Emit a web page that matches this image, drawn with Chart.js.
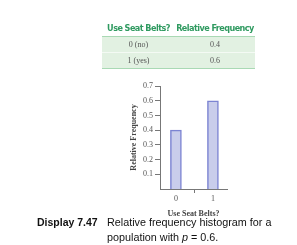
<!DOCTYPE html>
<html>
<head>
<meta charset="utf-8">
<script src="https://cdn.jsdelivr.net/npm/chart.js@4.4.1/dist/chart.umd.min.js"></script>
<style>
  html, body { margin: 0; padding: 0; background: #fff; }
  #wrap { position: relative; width: 297px; height: 245px; overflow: hidden; }
  #c { position: absolute; left: 0; top: 0; }
  table.freq { position: absolute; left: 102px; top: 19px; width: 153px; border-collapse: collapse; table-layout: fixed; }
  table.freq th { font-family: "DejaVu Sans Condensed", "Liberation Sans Narrow", "Liberation Sans", sans-serif; font-stretch: condensed; font-weight: bold; font-size: 9px; color: #2f9a60; height: 17px; padding: 0; text-align: center; white-space: nowrap; border-bottom: 1.5px solid #a9d9b4; letter-spacing: -0.55px; }
  table.freq td { font-family: "Liberation Serif", "DejaVu Serif", serif; font-size: 8px; color: #555; background: #e2f1e2; height: 15px; padding: 0; text-align: center; }
  table.freq tr.r1 td { border-bottom: 1px solid #f4faf4; }
  table.freq tr.r2 td { border-bottom: 1.5px solid #a9d9b4; }
  .cap { position: absolute; font-family: "Liberation Sans", Arial, sans-serif; color: #111; line-height: 15px; white-space: nowrap; }
</style>
</head>
<body>
<div id="wrap">
  <canvas id="c" width="297" height="245"></canvas>
  <table class="freq" id="tbl"></table>
  <div class="cap" style="left:37px; top:215px; font-weight:bold; font-size:10.5px;">Display 7.47</div>
  <div class="cap" style="left:107px; top:215px; font-size:10.8px;">Relative frequency histogram for a<br>population with <i>p</i> = 0.6.</div>
</div>
<script>
const headers = ['Use Seat Belts?', 'Relative Frequency'];
const rowLabels = ['0 (no)', '1 (yes)'];
const categories = [0, 1];
const relFreq = [0.4, 0.6];
const yTickValues = [0.1, 0.2, 0.3, 0.4, 0.5, 0.6, 0.7];
const xTitle = 'Use Seat Belts?';
const yTitle = 'Relative Frequency';

// table
const tbl = document.getElementById('tbl');
let html = '<tr><th style="width:73px">' + headers[0] + '</th><th>' + headers[1] + '</th></tr>';
rowLabels.forEach((r, i) => {
  html += '<tr class="r' + (i + 1) + '"><td>' + r + '</td><td>' + relFreq[i].toFixed(1) + '</td></tr>';
});
tbl.innerHTML = html;

const axisGrey = '#777';
const serif = '"Liberation Serif", "DejaVu Serif", serif';

new Chart(document.getElementById('c'), {
  type: 'bar',
  data: {
    datasets: [{
      data: categories.map((c, i) => ({ x: c, y: relFreq[i] })),
      backgroundColor: '#c9cdeb',
      borderColor: '#7c84d2',
      borderWidth: 1.5,
      barThickness: 11
    }]
  },
  options: {
    responsive: false,
    animation: false,
    events: [],
    layout: { padding: { left: 129, right: 70, top: 86, bottom: 26 } },
    plugins: { legend: { display: false }, tooltip: { enabled: false } },
    scales: {
      x: {
        type: 'linear',
        min: -0.43,
        max: 1.38,
        offset: false,
        afterBuildTicks: s => { s.ticks = categories.map(v => ({ value: v })); },
        afterFit: s => { s.height = 30; },
        grid: { display: true, drawOnChartArea: false, drawTicks: true, tickLength: 4, color: axisGrey, lineWidth: 1 },
        border: { display: true, color: axisGrey, width: 1 },
        ticks: { color: '#555', font: { family: serif, size: 8 }, padding: 1, maxRotation: 0, autoSkip: false },
        title: { display: true, text: xTitle, color: '#444', font: { family: serif, size: 8, weight: 'bold' }, padding: { top: 0, bottom: 0 } }
      },
      y: {
        type: 'linear',
        min: 0,
        max: 0.7,
        afterBuildTicks: s => { s.ticks = yTickValues.map(v => ({ value: v })); },
        afterFit: s => { s.width = 31; },
        grid: { display: true, drawOnChartArea: false, drawTicks: true, tickLength: 5, color: axisGrey, lineWidth: 1 },
        border: { display: true, color: axisGrey, width: 1 },
        ticks: { color: '#555', font: { family: serif, size: 8 }, padding: 2, callback: v => v.toFixed(1) },
        title: { display: true, text: yTitle, color: '#444', font: { family: serif, size: 8, weight: 'bold' }, padding: { top: 0, bottom: 0 } }
      }
    }
  }
});
</script>
</body>
</html>
